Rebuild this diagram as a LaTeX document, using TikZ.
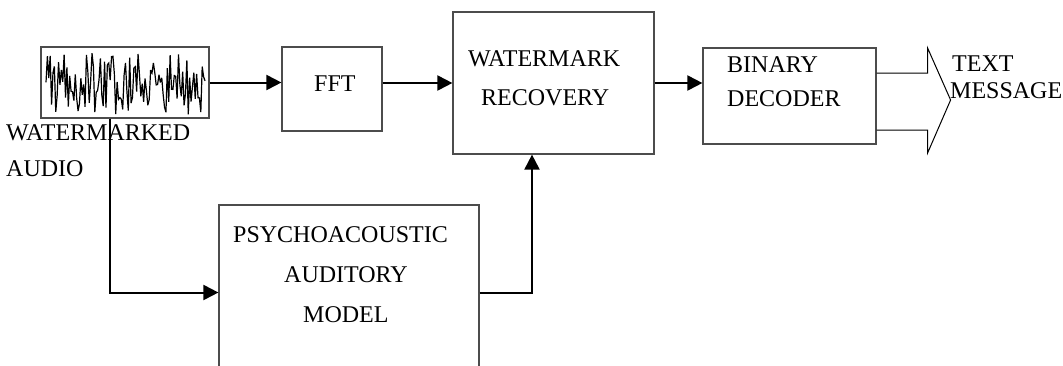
\documentclass[tikz,border=0pt]{standalone}
\usepackage{fontspec}
\setmainfont{Liberation Serif}
\usetikzlibrary{arrows.meta}
\begin{document}
\begin{tikzpicture}[x=1pt,y=-1pt,
  blk/.style={draw=black!70, line width=1.2pt, inner sep=0pt, rectangle},
  conn/.style={draw=black, line width=2pt, -{Triangle[length=15pt,width=15pt]}},
  lbl/.style={font=\fontsize{24}{29}\selectfont, inner sep=0pt, anchor=base west}]
\useasboundingbox (0,0) rectangle (1063,365);
% boxes
\node[blk, minimum width=168, minimum height=71] (wave) at (125,82.5) {};
\node[blk, minimum width=100, minimum height=84] (fft) at (332,89) {};
\node[blk, minimum width=201, minimum height=142] (wr) at (553.5,83) {};
\node[blk, minimum width=173, minimum height=96] (dec) at (789.5,96) {};
\node[blk, minimum width=260, minimum height=175] (psy) at (349,292.5) {};
% waveform
\pgfmathsetseed{5}
\draw[line width=1.2pt, line join=miter, miter limit=4] plot[domain=46:205, samples=115] (\x,{84+31*rand});
% labels
\node[lbl] (l1) at (6,140) {WATERMARKED};
\node[lbl] (l2) at (6,176) {AUDIO};
\node[lbl] (l3) at (314,91) {FFT};
\node[lbl] (l4) at (468,66) {WATERMARK};
\node[lbl] (l5) at (481,105) {RECOVERY};
\node[lbl] (l6) at (727,72) {BINARY};
\node[lbl] (l7) at (727,106) {DECODER};
\node[lbl] (l8) at (952,71) {TEXT};
\node[lbl] (l9) at (950,98) {MESSAGE};
\node[lbl] (l10) at (233,242) {PSYCHOACOUSTIC};
\node[lbl] (l11) at (284,282) {AUDITORY};
\node[lbl] (l12) at (303,322) {MODEL};
% connectors
\coordinate (tap) at ([xshift=-15pt]wave.south);
\coordinate (wrin) at ([xshift=-21.5pt]wr.south);
\draw[conn] (wave.east) -- (wave.east -| fft.west);
\draw[conn] (fft.east |- wr.west) -- (wr.west);
\draw[conn] (wr.east) -- (wr.east -| dec.west);
\draw[conn] (tap) |- (psy.west);
\draw[conn] (psy.east) -| (wrin);
% big output arrow
\draw[line width=1pt] ([yshift=23pt]dec.east) -- ++(51,0) -- ++(0,-25) -- ++(23,52) -- ++(-23,53) -- ++(0,-23) -- ++(-51,0);
\end{tikzpicture}
\end{document}
